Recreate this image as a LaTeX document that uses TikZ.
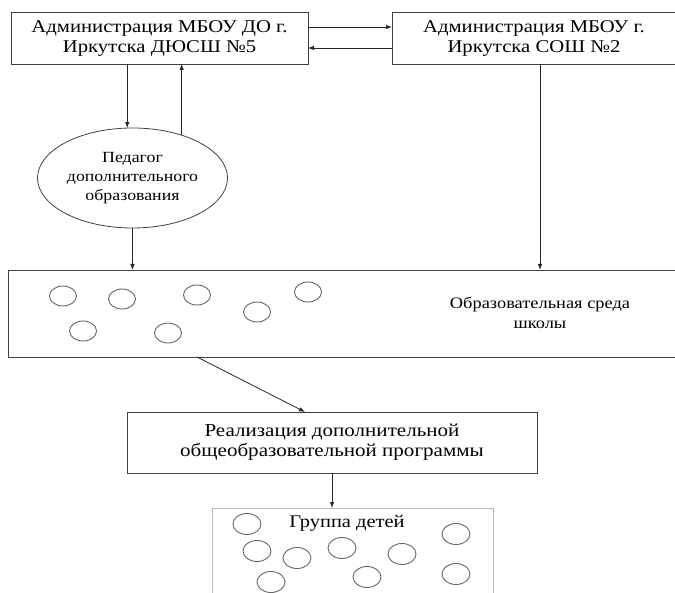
\documentclass[tikz,border=0pt]{standalone}
\usepackage{fontspec}
\setmainfont{Liberation Serif}[FakeStretch=1.15]
\usetikzlibrary{shapes.geometric,arrows.meta}
\begin{document}
\begin{tikzpicture}[x=1pt,y=-1pt,
  box/.style={draw=black!75,line width=0.8pt,rectangle,inner sep=0pt,outer sep=0pt,align=center},
  txt/.style={align=center,inner sep=0pt},
  arr/.style={draw=black!85,line width=0.8pt,-{Latex[length=6pt,width=4.5pt]}},
  dot/.style={draw=black!60,line width=0.9pt}]
\useasboundingbox (0,0) rectangle (675,593);
\clip (0,0) rectangle (675,593);
\node[box,minimum width=297pt,minimum height=52pt,font=\fontsize{18}{20}\selectfont] (A) at (159.5,38) {Администрация МБОУ ДО г.\\Иркутска ДЮСШ №5};
\node[box,minimum width=284pt,minimum height=52pt,font=\fontsize{18}{20}\selectfont] (B) at (534,38) {Администрация МБОУ г.\\Иркутска СОШ №2};
\node[box,ellipse,minimum width=190pt,minimum height=100pt,font=\fontsize{15.5}{19}\selectfont] (P) at (132.5,178) {Педагог\\дополнительного\\образования};
\node[box,minimum width=668pt,minimum height=87pt] (C) at (342,313.5) {};
\node[txt,font=\fontsize{16}{20}\selectfont] (Ct) at (540,313) {Образовательная среда\\школы};
\node[box,minimum width=410pt,minimum height=61pt,font=\fontsize{18.3}{20}\selectfont] (D) at (332,442.5) {Реализация дополнительной\\общеобразовательной программы};
\node[box,draw=gray!55,minimum width=281pt,minimum height=100pt] (E) at (352.5,558) {};
\node[txt,font=\fontsize{17.8}{20}\selectfont] (Et) at (347,523) {Группа детей};
% connectors
\draw[arr] ([yshift=11pt]A.east) -- ([yshift=11pt]B.west);
\draw[arr] ([yshift=-10pt]B.west) -- ([yshift=-10pt]A.east);
\draw[arr] (A.south -| P.96) -- (P.96);
\draw[arr] (P.41) -- (P.41 |- A.south);
\draw[arr] (P.south) -- (P.south |- C.north);
\draw[arr] ([xshift=6pt]B.south) -- ([xshift=6pt]B.south |- C.north);
\draw[arr] ([xshift=-145pt]C.south) -- ([xshift=-27pt]D.north);
\draw[arr] (D.south) -- (D.south |- E.north);
% circles in school environment
\foreach \x/\y in {63/296,122/299,197/295,308/292,257/312,83/331,168/333}
  \draw[dot] (\x,\y) ellipse (13.5pt and 10pt);
% circles in group
\foreach \x/\y in {247/524,257/551,297/558,342/548,402/554,456/534,271/582,367/577,456/574}
  \draw[dot] (\x,\y) ellipse (14pt and 10.5pt);
\end{tikzpicture}
\end{document}
